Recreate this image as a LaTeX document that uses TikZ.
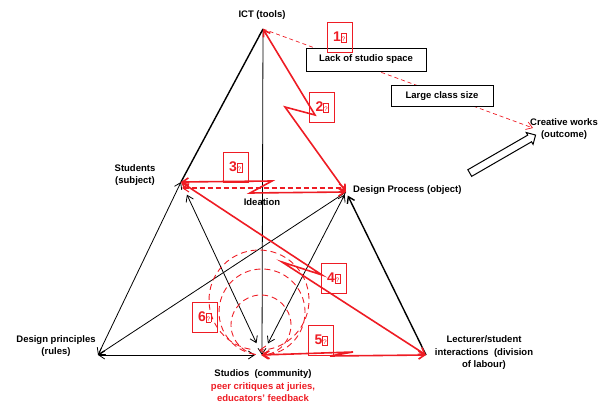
\documentclass[tikz,border=0pt]{standalone}
\usepackage{fontspec}
\setmainfont{Liberation Sans}
\usetikzlibrary{arrows.meta,shapes.arrows,calc}
\definecolor{crit}{RGB}{238,28,36}
\newcommand{\qbox}{{\fboxsep=0.4pt\fboxrule=0.4pt\fbox{\rule{0pt}{8pt}\fontsize{6.5}{6.5}\selectfont\mdseries ?}}}
\tikzset{
  lbl/.style={font=\fontsize{9.5}{12.5}\selectfont\bfseries, align=center, inner sep=1pt},
  issue/.style={draw, line width=0.7pt, fill=white, font=\fontsize{9.5}{11}\selectfont\bfseries, inner sep=0pt},
  numbox/.style={draw=crit, line width=0.5pt, text=crit, minimum width=25pt, minimum height=30pt, inner sep=0pt, font=\fontsize{14}{14}\selectfont\bfseries},
  thinline/.style={draw=black, line width=0.8pt},
  thickline/.style={draw=black, line width=1.4pt},
  bolt/.style={draw=crit, line width=1.6pt, {Straight Barb[length=6pt,width=8pt]}-{Straight Barb[length=6pt,width=8pt]}},
  ring/.style={draw=crit, line width=0.9pt, dash pattern=on 6pt off 4pt},
}
\begin{document}
\begin{tikzpicture}[x=1pt,y=-1pt,>={Straight Barb[length=6pt,width=8pt]}]
\useasboundingbox (0,0) rectangle (605,403);
% corners of the activity system
\coordinate (ict) at (263,29);
\coordinate (subj) at (181,182);
\coordinate (obj) at (346,192);
\coordinate (rules) at (98,355);
\coordinate (comm) at (262,355);
\coordinate (div) at (426,355);
\coordinate (outc) at (533,128);

% labels
\node[lbl] (ictlbl) at (262,15) {ICT (tools)};
\node[lbl] (subjlbl) at (135,175) {Students\\(subject)};
\node[lbl,anchor=west] (objlbl) at (352,190) {Design Process (object)};
\node[lbl] (idea) at (262,202) {Ideation};
\node[lbl] (ruleslbl) at (56,346) {Design principles\\(rules)};
\node[lbl] (commlbl) at (263,386) {Studios\ \ (community)\\\textcolor{crit}{peer critiques at juries,}\\\textcolor{crit}{educators' feedback}};
\node[lbl] (divlbl) at (484,353) {Lecturer/student\\interactions\ \ (division\\of labour)};
\node[lbl] (outclbl) at (564,129) {Creative works\\(outcome)};

% contradictions to the outcome
\draw[draw=crit, line width=0.7pt, dash pattern=on 4pt off 3pt, ->] (ict) -- (outc);
\node[issue, minimum width=120pt, minimum height=23pt] (space) at (366,59.5) {Lack of studio space};
\node[issue, minimum width=102pt, minimum height=21pt] (size) at (442,96) {Large class size};
\node[draw, line width=1pt, single arrow, single arrow head extend=3pt, minimum height=76pt, minimum width=13pt, rotate=30] (flow) at (501,155) {};

% black links
\draw[thickline] (ict) -- (subj);
\draw[thinline,<->] (ict) -- (comm);
\draw[thinline,<->] (subj) -- (rules);
\draw[thinline,<->,shorten <=14pt,shorten >=13pt] (subj) -- (comm);
\draw[thinline,<->,shorten <=3pt,shorten >=13pt] (obj) -- (comm);
\draw[thinline,<->] (obj) -- (rules);
\draw[thinline,<->,shorten >=7pt] (rules) -- (comm);
\draw[thickline,<-,shorten <=4pt] (obj) -- (div);

% red tensions
\draw[bolt] (ict) -- (315,115) -- (285,107) -- (obj);
\draw[bolt] (subj) -- (272,181) -- (250,193) -- (obj);
\draw[draw=crit, line width=1.1pt, dash pattern=on 5pt off 3pt, <->] ($(subj)+(1,6)$) -- ($(obj)+(0,-4)$);
\draw[bolt] (subj) -- (322,275) -- (282,262) -- (div);
\draw[bolt] (comm) -- (353,352) -- (330,356) -- (div);
\draw[ring,->] (259,300) ++(100:50) arc[start angle=100, delta angle=350, radius=50];
\draw[ring,->] (262,312) ++(100:43) arc[start angle=100, delta angle=350, radius=43];
\draw[ring,->] (261,325) ++(100:30) arc[start angle=100, delta angle=350, radius=30];

% numbered tensions
\node[numbox] (n1) at (339.5,37.5) {1\qbox};
\node[numbox] (n2) at (322,107) {2\qbox};
\node[numbox] (n3) at (235.5,167.5) {3\qbox};
\node[numbox] (n4) at (333.5,278.5) {4\qbox};
\node[numbox] (n5) at (321,340) {5\qbox};
\node[numbox] (n6) at (204.5,317) {6\qbox};
\end{tikzpicture}
\end{document}
